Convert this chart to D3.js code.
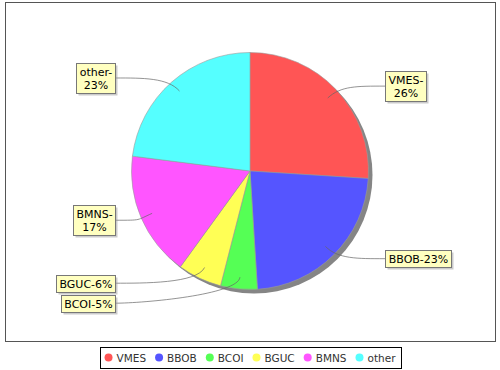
<!DOCTYPE html>
<html>
<head>
<meta charset="utf-8">
<script src="https://cdn.jsdelivr.net/npm/d3@7"></script>
<style>
body { margin: 0; background: #fff; }
svg { display: block; }
text { font-family: "DejaVu Sans", sans-serif; }
</style>
</head>
<body>
<div id="chart"></div>
<script>
// slice data, clockwise from 12 o'clock
var categories = ['VMES', 'BBOB', 'BCOI', 'BGUC', 'BMNS', 'other'];
var values = [26, 23, 5, 6, 17, 23];
var colors = ['#ff5555', '#5555ff', '#55ff55', '#ffff55', '#ff55ff', '#55ffff'];
// section label texts (split over lines as in the picture)
var labelLines = [['VMES-', '26%'], ['BBOB-23%'], ['BCOI-5%'], ['BGUC-6%'], ['BMNS-', '17%'], ['other-', '23%']];

var width = 500, height = 370;
var cx = 250, cy = 171;
var radius = 118.5;
var labelRadius = 124;   // where the label centre sits vertically
var labelGap = 135;      // horizontal distance of label boxes from centre
var lineH = 13;

var svg = d3.select('#chart')
    .append('svg')
    .attr('width', width)
    .attr('height', height);

// plot outline
svg.append('rect')
    .attr('x', 5.5).attr('y', 2.5)
    .attr('width', 490).attr('height', 339)
    .attr('fill', '#fff')
    .attr('stroke', '#555')
    .attr('stroke-width', 1);

var pie = d3.pie().sort(null).value(function(d){ return d; });
var arcs = pie(values);
var arc = d3.arc().innerRadius(0).outerRadius(radius);

var g = svg.append('g').attr('transform', 'translate(' + cx + ',' + cy + ')');

// shadow
g.append('circle')
    .attr('cx', 4).attr('cy', 4)
    .attr('r', radius)
    .attr('fill', '#858585');

g.selectAll('path.slice')
    .data(arcs)
    .enter()
    .append('path')
    .attr('class', 'slice')
    .attr('d', arc)
    .attr('fill', function(d, i){ return colors[i]; })
    .attr('stroke', '#9a9a9a')
    .attr('stroke-width', 0.6);

// labels
var labels = arcs.map(function(d, i){
    var mid = (d.startAngle + d.endAngle) / 2;
    return {i: i, mid: mid, right: Math.sin(mid) >= 0, y: -Math.cos(mid) * labelRadius};
});

var labelG = svg.append('g').attr('transform', 'translate(' + cx + ',' + cy + ')');

// measure boxes
labels.forEach(function(l){
    var t = labelG.append('text').attr('font-size', 11);
    labelLines[l.i].forEach(function(s){ t.append('tspan').text(s); });
    var w = 0;
    t.selectAll('tspan').each(function(){ w = Math.max(w, this.getComputedTextLength()); });
    t.remove();
    l.w = Math.round(w) + 6;
    l.h = labelLines[l.i].length * lineH + 4;
    l.x = l.right ? labelGap : -labelGap - l.w;
});

// push overlapping boxes apart, per side
[true, false].forEach(function(side){
    var list = labels.filter(function(l){ return l.right === side; })
        .sort(function(a, b){ return a.y - b.y; });
    var prevBottom = -Infinity;
    list.forEach(function(l){
        var top = l.y - l.h / 2;
        if (top < prevBottom + 3) { top = prevBottom + 3; l.y = top + l.h / 2; }
        prevBottom = top + l.h;
    });
});

labels.forEach(function(l){
    var linkR = radius * 0.9, elbowR = radius * 1.05;
    var lx = Math.sin(l.mid) * linkR, ly = -Math.cos(l.mid) * linkR;
    var ex = Math.sin(l.mid) * elbowR, ey = -Math.cos(l.mid) * elbowR;
    var tx = l.right ? l.x : l.x + l.w, ty = l.y;
    var ax = l.right ? tx - 28 : tx + 28;
    labelG.append('path')
        .attr('d', 'M' + tx + ',' + ty + 'C' + ax + ',' + ty + ' ' + ex + ',' + ey + ' ' + lx + ',' + ly)
        .attr('fill', 'none')
        .attr('stroke', '#666')
        .attr('stroke-width', 0.7);
});

labels.forEach(function(l){
    var bx = Math.round(l.x) + 0.5, by = Math.round(l.y - l.h / 2) + 0.5;
    labelG.append('rect')
        .attr('x', bx + 2).attr('y', by + 2)
        .attr('width', l.w).attr('height', l.h)
        .attr('fill', 'rgba(151,151,151,0.5)');
    labelG.append('rect')
        .attr('x', bx).attr('y', by)
        .attr('width', l.w).attr('height', l.h)
        .attr('fill', '#ffffc0')
        .attr('stroke', '#777')
        .attr('stroke-width', 1);
    var t = labelG.append('text')
        .attr('font-size', 11)
        .attr('text-anchor', 'middle')
        .attr('fill', '#000');
    labelLines[l.i].forEach(function(s, k){
        t.append('tspan')
            .attr('x', bx + l.w / 2)
            .attr('y', by + 2 + lineH * k + 10.5)
            .text(s);
    });
});

// legend
var legend = svg.append('g');
var lx = 0;
categories.forEach(function(c, i){
    var item = legend.append('g');
    item.append('circle')
        .attr('cx', lx + 4).attr('cy', 0)
        .attr('r', 4)
        .attr('fill', colors[i]);
    var t = item.append('text')
        .attr('x', lx + 12)
        .attr('y', 4)
        .attr('font-size', 10.5)
        .attr('fill', '#333')
        .text(c);
    lx += 12 + t.node().getComputedTextLength() + 9;
});
var legW = lx - 9;
var boxW = legW + 10;
legend.attr('transform', 'translate(' + (250 - legW / 2) + ',357.5)');
svg.insert('rect', 'g')
    .attr('x', Math.round(250 - boxW / 2) + 0.5).attr('y', 347.5)
    .attr('width', Math.round(boxW)).attr('height', 21)
    .attr('fill', '#fff')
    .attr('stroke', '#000')
    .attr('stroke-width', 1);
</script>
</body>
</html>
